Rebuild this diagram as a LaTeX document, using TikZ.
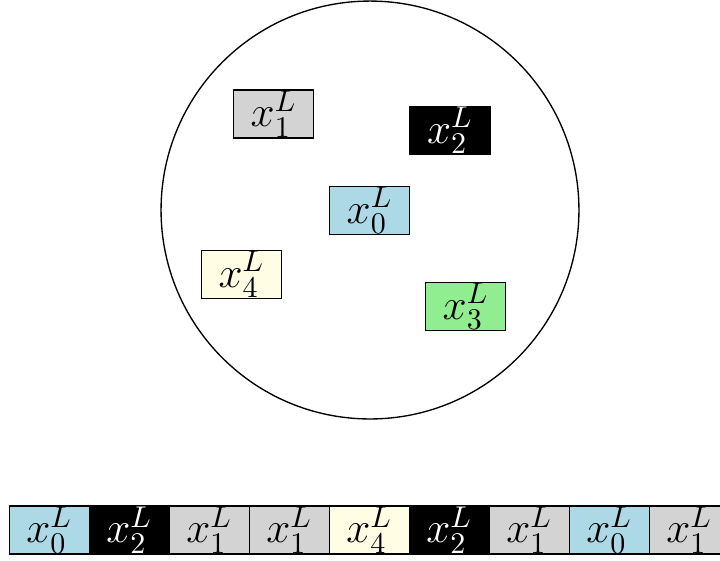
\documentclass[tikz,border=0pt]{standalone}
\definecolor{cblue}{RGB}{173,216,230}
\definecolor{cgray}{RGB}{211,211,211}
\definecolor{cyellow}{RGB}{255,253,228}
\definecolor{cgreen}{RGB}{144,238,144}
\begin{document}
\begin{tikzpicture}[x=0.33333pt,y=-0.33333pt,
  cell/.style={draw, line width=0.45pt, minimum width=26.667pt, minimum height=16pt, inner sep=0pt, font=\Large},
  cb/.style={cell, fill=cblue},
  cg/.style={cell, fill=cgray},
  cy/.style={cell, fill=cyellow},
  cgr/.style={cell, fill=cgreen},
  ck/.style={cell, fill=black, text=white}]
\useasboundingbox (0,0) rectangle (720,560);
\clip (0,0) rectangle (720,560);
\node[draw, circle, minimum size=139.3pt, inner sep=0pt, line width=0.45pt] (circ) at (370,210) {};
\node[cg]  (a1) at (273.7,114)   {$x_1^L$};
\node[ck]  (a2) at (450,130.5)   {$x_2^L$};
\node[cb]  (a0) at (369.7,210.3) {$x_0^L$};
\node[cy]  (a4) at (241.5,274.3) {$x_4^L$};
\node[cgr] (a3) at (465.7,306.5) {$x_3^L$};
\node[cb] (r0) at (49.3,530)  {$x_0^L$};
\node[ck] (r1) at (129.3,530) {$x_2^L$};
\node[cg] (r2) at (209.3,530) {$x_1^L$};
\node[cg] (r3) at (289.3,530) {$x_1^L$};
\node[cy] (r4) at (369.3,530) {$x_4^L$};
\node[ck] (r5) at (449.3,530) {$x_2^L$};
\node[cg] (r6) at (529.3,530) {$x_1^L$};
\node[cb] (r7) at (609.3,530) {$x_0^L$};
\node[cg] (r8) at (689.3,530) {$x_1^L$};
\end{tikzpicture}
\end{document}
